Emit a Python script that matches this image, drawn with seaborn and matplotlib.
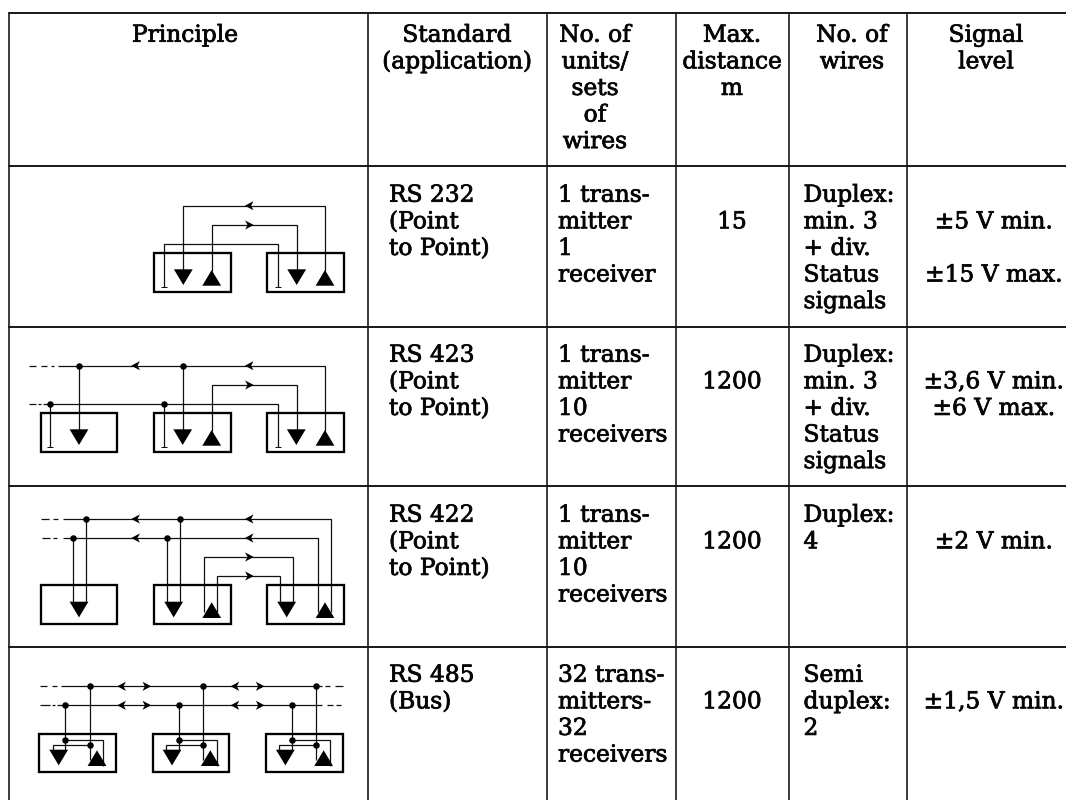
import matplotlib
matplotlib.use("Agg")
import matplotlib.pyplot as plt
from matplotlib.patches import Rectangle
import matplotlib.patheffects as pe
import seaborn as sns

# ---- table content ----
headers = [["Principle"], ["Standard", "(application)"],
           ["No. of", "units/", "sets", "of", "wires"],
           ["Max.", "distance", "m"], ["No. of", "wires"], ["Signal", "level"]]
standard = [["RS 232", "(Point", "to Point)"], ["RS 423", "(Point", "to Point)"],
            ["RS 422", "(Point", "to Point)"], ["RS 485", "(Bus)"]]
units = [["1 trans-", "mitter", "1", "receiver"], ["1 trans-", "mitter", "10", "receivers"],
         ["1 trans-", "mitter", "10", "receivers"], ["32 trans-", "mitters-", "32", "receivers"]]
distance = ["15", "1200", "1200", "1200"]
wires = [["Duplex:", "min. 3", "+ div.", "Status", "signals"],
         ["Duplex:", "min. 3", "+ div.", "Status", "signals"],
         ["Duplex:", "4"], ["Semi", "duplex:", "2"]]
signal = [["±5 V min.", "", "±15 V max."], ["±3,6 V min.", "±6 V max."], ["±2 V min."], ["±1,5 V min."]]

# ---- layout ----
W, H = 1066, 800
col_x = [9, 368, 547, 676, 789, 907]
row_y = [13, 166, 327, 486, 647]
LEAD = 26.6
FONT = dict(family="DejaVu Serif", fontsize=16.8, color="#050505", va="baseline",
            path_effects=[pe.withStroke(linewidth=0.55, foreground="#050505")])
HEAD_C = [185, 457, 595, 732, 852, 986]
row_base = [201.7, 361.7, 521.7, 681.7]

sns.set_theme(style="white", rc={"font.family": "DejaVu Serif"})
fig = plt.figure(figsize=(W / 100, H / 100), dpi=100)
ax = fig.add_axes([0, 0, 1, 1])
ax.set_xlim(0, W)
ax.set_ylim(H, 0)
ax.axis("off")

LW = 0.72


def wire(xs, ys, lw=1.25):
    ax.plot(xs, ys, color="#111111", lw=lw * LW, solid_capstyle="butt", solid_joinstyle="miter", zorder=3)


def dashes(y, segs):
    for a, b in segs:
        wire([a / 3, b / 3], [y, y])


def box(x0, x1, y0, y1):
    ax.add_patch(Rectangle((x0, y0), x1 - x0, y1 - y0, fill=False, ec="black", lw=2.3 * LW,
                           joinstyle="miter", zorder=4))


def tri(cx, top, down=True):
    bot = top + 15.7
    hw = 9.4
    if down:
        ax.fill([cx - hw, cx + hw, cx], [top, top, bot], color="black", lw=0, zorder=5)
    else:
        ax.fill([cx - hw, cx + hw, cx], [bot, bot, top], color="black", lw=0, zorder=5)


def arrow(cx, y, left=True):
    s = -1 if left else 1
    ax.fill([cx + s * 4.4, cx - s * 4.2, cx - s * 1.8, cx - s * 4.2],
            [y, y - 4.6, y, y + 4.6], color="black", lw=0, zorder=5)


def ground(x, y, top):
    wire([x, x], [top, y])
    wire([x - 3, x + 3], [y, y], 1.0)


def dots(xs, ys):
    sns.scatterplot(x=xs, y=ys, s=22, color="black", linewidth=0, ax=ax, legend=False, zorder=6)


# ---- grid ----
for y in row_y:
    ax.plot([col_x[0], W], [y, y], color="#111111", lw=1.9 * LW, zorder=2)
for x in col_x:
    ax.plot([x, x], [row_y[0], H], color="#111111", lw=1.6 * LW, zorder=2)

# ---- text ----
for cx, lines in zip(HEAD_C, headers):
    for i, t in enumerate(lines):
        ax.text(cx, 41.7 + i * LEAD, t, ha="center", **FONT)

for r in range(4):
    b = row_base[r]
    for i, t in enumerate(standard[r]):
        ax.text(389, b + i * LEAD, t, ha="left", **FONT)
    for i, t in enumerate(units[r]):
        ax.text(558, b + i * LEAD, t, ha="left", **FONT)
    ax.text(732, b + LEAD, distance[r], ha="center", **FONT)
    for i, t in enumerate(wires[r]):
        ax.text(803.5, b + i * LEAD, t, ha="left", **FONT)
    for i, t in enumerate(signal[r]):
        ax.text(994, b + (i + 1) * LEAD, t, ha="center", **FONT)

# ---- diagram: RS 232 ----
box(154, 231, 253.3, 292)
box(267.3, 344, 253.3, 292)
wire([183.3, 183.3, 325, 325], [270, 205.7, 205.7, 271])
wire([211.7, 211.7, 296.7, 296.7], [271, 225, 225, 270])
wire([164.3, 164.3, 277.7, 277.7], [286.7, 244, 244, 286.7])
wire([161.3, 167.3], [286.7, 286.7], 1.0)
wire([274.7, 280.7], [286.7, 286.7], 1.0)
tri(183.3, 269.3); tri(211.7, 270, False); tri(296.7, 269.3); tri(325, 270, False)
arrow(249.3, 205.7); arrow(249.3, 225, False)

# ---- diagram: RS 423 ----
for x0 in (40.7, 154, 267.3):
    box(x0, x0 + 76.7, 413.3, 452)
yA, yB, yC = 365.7, 385, 404
dashes(yA, [(88, 108), (122, 142), (153, 162)])
wire([58, 325, 325], [yA, yA, 431])
wire([79, 79], [yA, 430]); wire([182.7, 182.7], [yA, 430])
wire([211.7, 211.7, 296.7, 296.7], [431, yB, yB, 430])
dashes(yC, [(88, 108), (114, 122), (130, 140)])
wire([46, 277.7, 277.7], [yC, yC, 446.7])
ground(50.3, 446.7, yC); ground(163.7, 446.7, yC)
wire([274.7, 280.7], [446.7, 446.7], 1.0)
dots([79, 182.7, 50.3, 163.7], [yA, yA, yC, yC])
tri(79, 429.3); tri(182.7, 429.3); tri(296.3, 429.3)
tri(211.7, 430, False); tri(325, 430, False)
arrow(135.7, yA); arrow(249.3, yA); arrow(249.3, yB, False)

# ---- diagram: RS 422 ----
for x0 in (40.7, 154, 267.3):
    box(x0, x0 + 76.7, 585.3, 624)
yA, yB, yC, yD = 519, 538, 557, 576
dashes(yA, [(123, 147), (158, 173)])
wire([63.3, 331.3, 331.3], [yA, yA, 612])
dashes(yB, [(125, 150), (158, 172)])
wire([63.3, 317.7, 317.7], [yB, yB, 612])
for x in (85.7, 180):
    wire([x, x], [yA, 603])
for x in (73, 167.3):
    wire([x, x], [yB, 603])
wire([204, 204, 293.3, 293.3], [612, yC, yC, 603])
wire([217.3, 217.3, 280.3, 280.3], [612, yD, yD, 603])
dots([85.7, 180, 73, 167.3], [yA, yA, yB, yB])
tri(79, 601.7); tri(173.7, 601.7); tri(286.7, 601.7)
tri(211.7, 602.3, False); tri(325, 602.3, False)
for x, y, lf in [(135.7, yA, True), (249.3, yA, True), (135.7, yB, True), (249.3, yB, True),
                 (249.3, yC, False), (249.3, yD, False)]:
    arrow(x, y, lf)

# ---- diagram: RS 485 ----
yA, yB = 686.3, 705.3
dashes(yA, [(120, 140), (155, 172), (975, 990), (1005, 1030)])
dashes(yB, [(120, 150), (155, 165), (980, 1000), (1008, 1024)])
wire([61, 322], [yA, yA])
wire([57, 322], [yB, yB])
for k in range(3):
    d = k * 113.33
    box(39.3 + d, 116 + d, 733.7, 772.3)
    wire([65.3 + d, 65.3 + d], [yB, 751])
    wire([89.7 + d, 89.7 + d], [yA, 760])
    wire([65.3 + d, 103.3 + d, 103.3 + d], [740, 740, 766])
    wire([52.7 + d, 52.7 + d, 89.7 + d], [751, 745, 745])
    dots([89.7 + d, 65.3 + d, 65.3 + d, 89.7 + d], [yA, yB, 740, 745])
    tri(58.7 + d, 749.7); tri(97 + d, 750.3, False)
    if k < 2:
        for y in (yA, yB):
            arrow(121.7 + d, y); arrow(146.7 + d, y, False)

fig.savefig("out.png", dpi=100)
